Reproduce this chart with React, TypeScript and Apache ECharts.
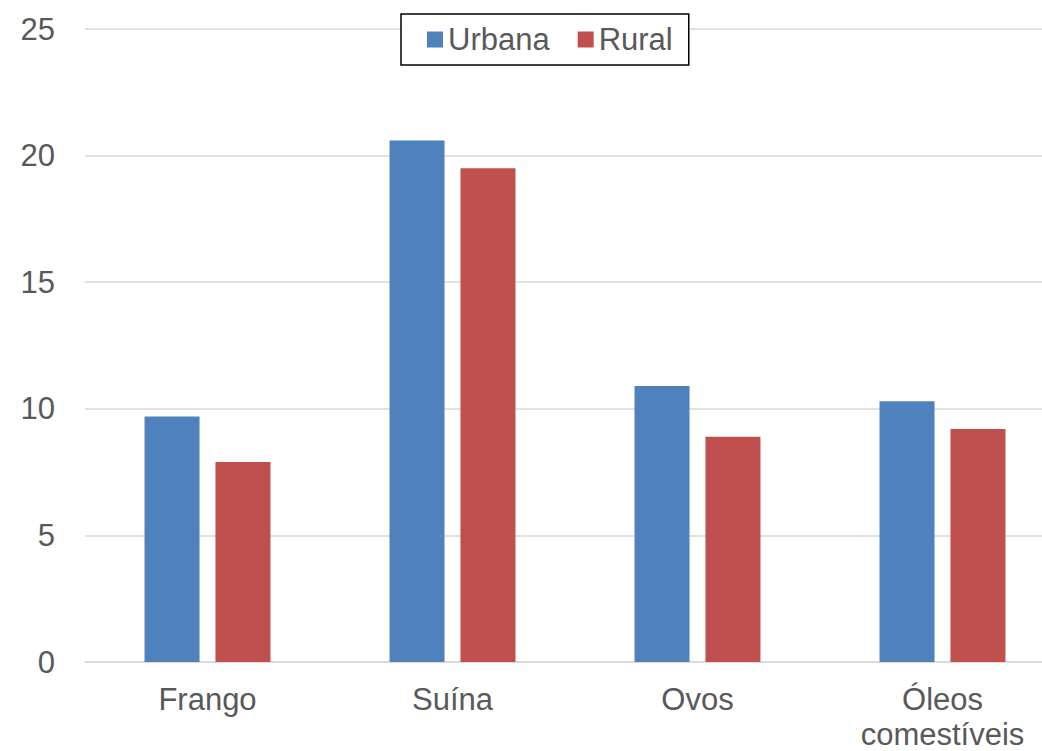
import React, { useEffect, useRef } from "react";
import * as echarts from "echarts";

const categories = ["Frango", "Suína", "Ovos", "Óleos\ncomestíveis"];
const urbana = [9.7, 20.6, 10.9, 10.3];
const rural = [7.9, 19.5, 8.9, 9.2];
const seriesNames = ["Urbana", "Rural"];
const colors = ["#4F81BD", "#C0504D"];

export default function App() {
  const ref = useRef<HTMLDivElement>(null);
  useEffect(() => {
    if (!ref.current) return;
    const chart = echarts.init(ref.current, undefined, { renderer: "svg" });
    const font = "'Liberation Sans', Arial, sans-serif";
    chart.setOption({
      animation: false,
      textStyle: { fontFamily: font },
      legend: {
        data: seriesNames,
        icon: "rect",
        left: 401,
        top: 14,
        padding: [10, 16, 10, 26],
        itemGap: 28,
        itemWidth: 16,
        itemHeight: 16,
        borderColor: "#000",
        borderWidth: 1.5,
        backgroundColor: "#fff",
        textStyle: { fontSize: 31, color: "#595959", fontFamily: font },
      },
      grid: {
        left: 85,
        right: -23,
        top: 29,
        bottom: 89,
        containLabel: false,
        outerBoundsMode: "none",
      },
      xAxis: {
        type: "category",
        data: categories,
        axisLine: { show: true, lineStyle: { color: "#d9d9d9", width: 1.5 } },
        axisTick: { show: false },
        axisLabel: {
          fontSize: 31,
          color: "#595959",
          margin: 20,
          lineHeight: 35,
          fontFamily: font,
        },
      },
      yAxis: {
        type: "value",
        min: 0,
        max: 25,
        interval: 5,
        axisLine: { show: false },
        axisTick: { show: false },
        splitLine: { lineStyle: { color: "#d9d9d9", width: 1.5 } },
        axisLabel: { fontSize: 31, color: "#595959", margin: 30, fontFamily: font },
      },
      series: [
        {
          name: seriesNames[0],
          type: "bar",
          data: urbana,
          barWidth: 55,
          barGap: "29%",
          itemStyle: { color: colors[0] },
        },
        {
          name: seriesNames[1],
          type: "bar",
          data: rural,
          barWidth: 55,
          barGap: "29%",
          itemStyle: { color: colors[1] },
        },
      ],
    });
    return () => chart.dispose();
  }, []);
  return (
    <div
      ref={ref}
      style={{ position: "absolute", left: 0, top: 0, width: 1042, height: 751, background: "#fff" }}
    />
  );
}
